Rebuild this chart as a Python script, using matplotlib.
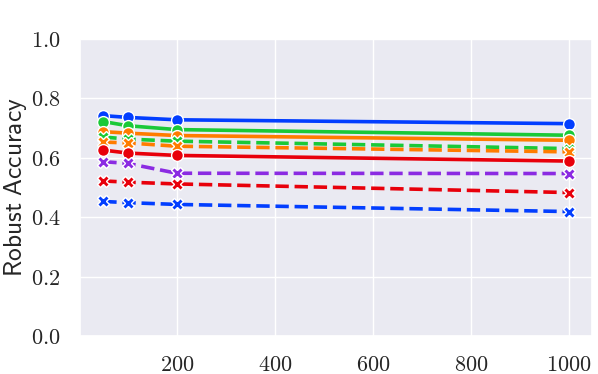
import matplotlib
matplotlib.use("Agg")
import matplotlib.pyplot as plt
import seaborn as sns

sns.set_theme(style="darkgrid")
plt.rcParams['mathtext.fontset'] = 'cm'
plt.rcParams['font.family'] = ['DejaVu Sans']

x = [50, 100, 200, 1000]

blue_solid = [0.742, 0.736, 0.728, 0.715]
green_solid = [0.722, 0.708, 0.695, 0.676]
orange_solid = [0.688, 0.683, 0.675, 0.659]
green_dashed = [0.670, 0.663, 0.656, 0.631]
orange_dashed = [0.653, 0.650, 0.639, 0.620]
red_solid = [0.626, 0.616, 0.608, 0.589]
purple_dashed = [0.587, 0.581, 0.548, 0.547]
red_dashed = [0.522, 0.518, 0.512, 0.483]
blue_dashed = [0.453, 0.449, 0.443, 0.419]

pal = sns.color_palette("bright")
BLUE, ORANGE, GREEN, RED, PURPLE = pal[0], pal[1], pal[2], pal[3], pal[4]

series = [
    (blue_solid, BLUE, '-', 'o'),
    (green_solid, GREEN, '-', 'o'),
    (orange_solid, ORANGE, '-', 'o'),
    (green_dashed, GREEN, '--', 'X'),
    (orange_dashed, ORANGE, '--', 'X'),
    (red_solid, RED, '-', 'o'),
    (purple_dashed, PURPLE, '--', 'X'),
    (red_dashed, RED, '--', 'X'),
    (blue_dashed, BLUE, '--', 'X'),
]

fig = plt.figure(figsize=(5.98, 3.74), dpi=100)
ax = fig.add_axes([80/598, 38/374, 512/598, 297/374])

for ys, c, ls, m in series:
    ax.plot(x, ys, color=c, linestyle=ls, marker=m, linewidth=2.6,
            markersize=8.5 if m == 'o' else 8, markeredgecolor='white',
            markeredgewidth=1.0)

ax.set_ylim(0, 1.0)
ax.set_xlim(2.5, 1047.5)
ax.set_xticks([200, 400, 600, 800, 1000])
ax.set_xticklabels([f'${v}$' for v in [200, 400, 600, 800, 1000]], fontsize=16)
yt = [0.0, 0.2, 0.4, 0.6, 0.8, 1.0]
ax.set_yticks(yt)
ax.set_yticklabels([f'${v:.1f}$' for v in yt], fontsize=16)
ax.set_ylabel(r'$\mathsf{Robust\ Accuracy}$', fontsize=18.3)
ax.yaxis.set_label_coords(-0.1, 0.5)
ax.tick_params(axis='both', pad=8)

fig.savefig('out.png', dpi=100)
